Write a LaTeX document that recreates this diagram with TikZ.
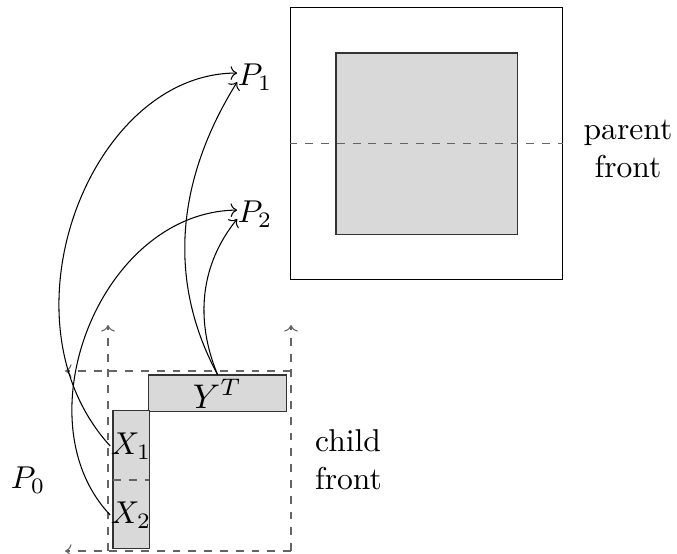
\documentclass[tikz,border=0pt]{standalone}
\usepackage{amsmath,amssymb}
\usepackage{xcolor}
\usepackage{tikz}
\usetikzlibrary{positioning,arrows.meta}
\definecolor{blockgray}{RGB}{217,217,217}
\definecolor{dashgray}{RGB}{100,100,100}

\begin{document}
\begin{tikzpicture}[
            x=0.38pt, y=-0.38pt,
            txt/.style={scale=1.2},
            frontbox/.style={rectangle, draw=black, inner sep=0pt, thin},
            blockbox/.style={rectangle, draw=black!80, fill=blockgray, inner sep=0pt, thin},
            lbl/.style={inner sep=0pt, scale=1.2},
            dashline/.style={draw=dashgray, dashed, thin},
            link/.style={->, thin}
        ]
            \useasboundingbox (0,0) rectangle (677,553);

            % parent front
            \node[frontbox, minimum width=103.7pt, minimum height=103.7pt] (parent) at (426.5,143.5) {};
            \node[blockbox, minimum width=68.8pt, minimum height=68.8pt] (pblock) at (426.5,143.5) {};
            \draw[dashline] (parent.west) -- (parent.east);
            \node[txt, align=center] (ptext) at (628,149) {parent\\front};

            % child front
            \coordinate (cbl) at (108,551);
            \coordinate (cbr) at (291,551);
            \coordinate (ctl) at (108,325);
            \coordinate (ctr) at (291,325);
            \coordinate (ctop) at (291,371);
            \coordinate (cleft) at (65,371);
            \coordinate (cbot) at (65,551);
            \draw[dashline, ->] (cbl) -- (ctl);
            \draw[dashline, ->] (cbr) -- (ctr);
            \draw[dashline, ->] (ctop) -- (cleft);
            \draw[dashline, ->] (cbr) -- (cbot);

            \node[blockbox, minimum width=52.1pt, minimum height=13.7pt] (yt) at (217.5,393) {};
            \node[inner sep=0pt, scale=1.3] (ytl) at ([yshift=-0.3pt]yt) {$Y^T$};
            \node[blockbox, minimum width=13.7pt, minimum height=52.1pt] (xcol) at (131,479.5) {};
            \draw[dashline] (113,480) -- (149,480);
            \node[lbl] (x1) at (131,446) {$X_1$};
            \node[lbl] (x2) at (131,515) {$X_2$};
            \node[txt, align=left, anchor=west] (ctext) at (304,460) {child\\front};
            \node[txt] (p0) at (28,480) {$P_0$};

            % pivots
            \node[lbl] (p1) at (255,77) {$P_1$};
            \node[lbl] (p2) at (255,214) {$P_2$};

            \draw[link] (x1.west) .. controls (-5,320) and (90,73) .. ([yshift=1.5pt]p1.west);
            \draw[link] (x2.west) .. controls (20,420) and (100,212) .. ([yshift=1.5pt]p2.west);
            \draw[link] (yt.north) .. controls (172,290) and (170,190) .. ([yshift=-1.9pt]p1.west);
            \draw[link] (yt.north) .. controls (195,320) and (200,265) .. ([yshift=-1.9pt]p2.west);
        \end{tikzpicture}
\end{document}
